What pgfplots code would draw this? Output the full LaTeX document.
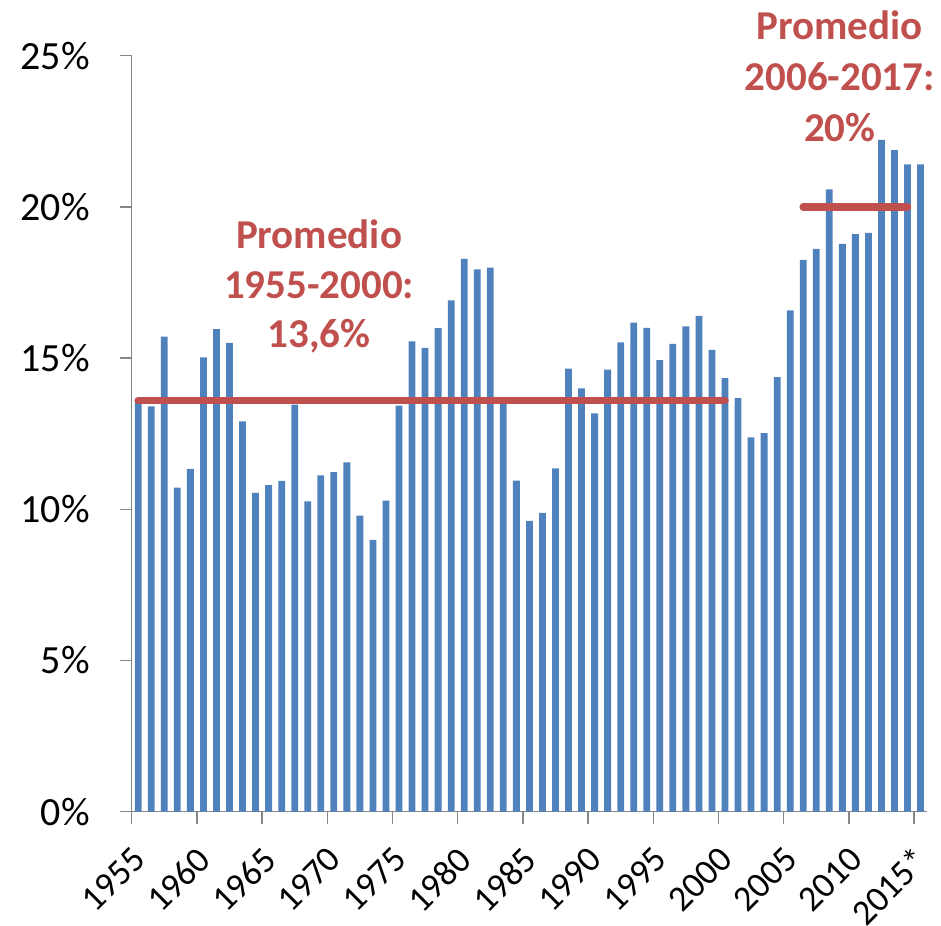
\documentclass[border=0pt]{standalone}
\usepackage{pgfplots}
\pgfplotsset{compat=1.18}
\usepackage{pgfplotstable}
\usepackage{fontspec}
\setmainfont{Carlito}
\definecolor{barblue}{HTML}{4F81BD}
\definecolor{avgred}{HTML}{C0504D}
\definecolor{axgray}{HTML}{868686}
\pgfplotstableread{
x y
0 13.62
1 13.40
2 15.71
3 10.72
4 11.34
5 15.02
6 15.96
7 15.50
8 12.91
9 10.54
10 10.80
11 10.94
12 13.46
13 10.26
14 11.12
15 11.23
16 11.55
17 9.79
18 8.99
19 10.29
20 13.43
21 15.55
22 15.34
23 15.99
24 16.91
25 18.28
26 17.93
27 17.99
28 13.60
29 10.95
30 9.62
31 9.88
32 11.35
33 14.65
34 14.00
35 13.17
36 14.62
37 15.52
38 16.17
39 16.00
40 14.93
41 15.47
42 16.05
43 16.40
44 15.27
45 14.34
46 13.68
47 12.38
48 12.52
49 14.37
50 16.58
51 18.25
52 18.61
53 20.58
54 18.78
55 19.10
56 19.14
57 22.22
58 21.88
59 21.41
60 21.41
}\datatable
\pgfplotstableread{
x y
0 13.6
45 13.6
}\avgA
\pgfplotstableread{
x y
51 20
59 20
}\avgB
\begin{document}
\begin{tikzpicture}
\useasboundingbox (0,0) rectangle (941pt,925pt);
\begin{axis}[
  at={(131.7pt,113.3pt)}, anchor=south west,
  scale only axis, width=795.4pt, height=756pt,
  xmin=-0.5, xmax=60.5, ymin=0, ymax=25,
  clip=false,
  axis lines*=left,
  axis line style={axgray, line width=1.3pt},
  tick align=outside,
  major tick length=12pt,
  tick style={axgray, line width=1.3pt},
  ytick={0,5,10,15,20,25},
  yticklabels={0\%,5\%,10\%,15\%,20\%,25\%},
  yticklabel style={font=\fontsize{40}{48}\selectfont, anchor=east, inner sep=0pt, xshift=-29.7pt},
  xtick={-0.5,4.5,...,59.5},
  xticklabels={},
  extra x ticks={0,5,...,60},
  extra x tick labels={1955,1960,1965,1970,1975,1980,1985,1990,1995,2000,2005,2010,2015*},
  extra x tick style={major tick length=0pt, xticklabel style={font=\fontsize{36}{44}\selectfont, yshift=-42pt, xshift=1pt, rotate=45, anchor=east, inner sep=0pt}},
  ybar, bar width=6.8pt,
]
\addplot[fill=barblue, draw=none, bar shift=0pt] table[x=x,y=y] {\datatable};
\addplot[sharp plot, avgred, line width=7.5pt, line cap=round] table[x=x,y=y] {\avgA};
\addplot[sharp plot, avgred, line width=7.5pt, line cap=round] table[x=x,y=y] {\avgB};
\begin{scope}[every node/.style={text=avgred, font=\bfseries\fontsize{41}{50}\selectfont, anchor=base, inner sep=0pt}]
\node at (axis cs:13.87,18.63) {Promedio};
\node at (axis cs:13.87,16.98) {1955-2000:};
\node at (axis cs:13.87,15.36) {13,6\%};
\node at (axis cs:53.8,25.52) {Promedio};
\node at (axis cs:53.8,23.84) {2006-2017:};
\node at (axis cs:53.8,22.16) {20\%};
\end{scope}
\end{axis}
\end{tikzpicture}
\end{document}
